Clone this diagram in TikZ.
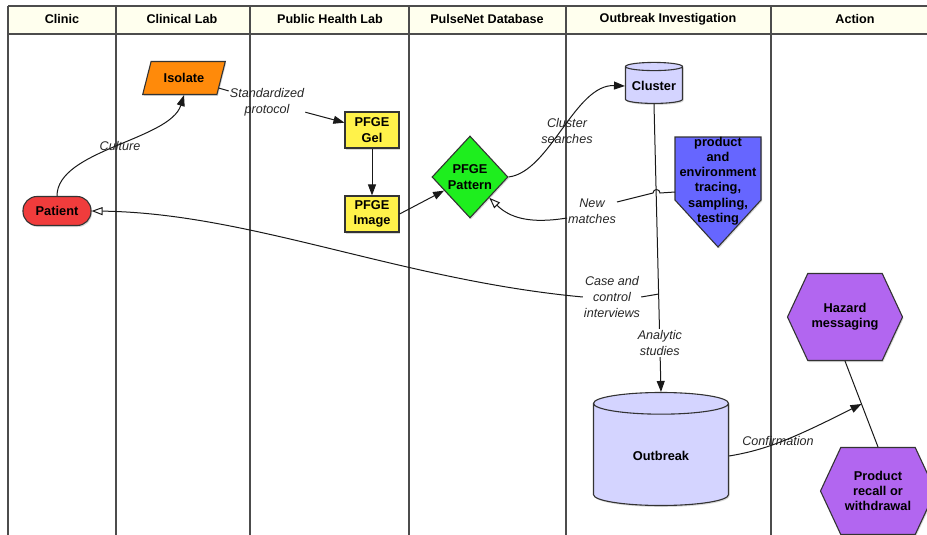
\documentclass[tikz,border=0pt]{standalone}
\usepackage{fontspec}
\setmainfont{Liberation Sans}
\usetikzlibrary{shapes.geometric,shapes.symbols,arrows.meta,shadows,calc}

\definecolor{headfill}{HTML}{FFFFEE}
\definecolor{isoorange}{HTML}{FF8A0A}
\definecolor{gelyellow}{HTML}{FFF24A}
\definecolor{patgreen}{HTML}{1EEE1E}
\definecolor{cyllav}{HTML}{D4D4FF}
\definecolor{traceblue}{HTML}{6666FF}
\definecolor{patred}{HTML}{F03C3C}
\definecolor{hazpurple}{HTML}{B266F0}

\tikzset{
  lane/.style={line width=1.3pt, draw=black!70},
  head/.style={font=\fontsize{12.6}{15}\selectfont\bfseries},
  boxtext/.style={align=center, inner sep=2pt,
    font=\fontsize{12.8}{15.3}\selectfont\bfseries},
  box/.style={boxtext, draw=black!80, line width=1.1pt,
    drop shadow={shadow xshift=1pt, shadow yshift=-1.5pt, opacity=0.3}},
  note/.style={font=\fontsize{12.6}{16}\selectfont\itshape, align=center,
    inner sep=1pt, text=black!85},
  link/.style={line width=1pt, draw=black!90},
  flow/.style={link, -{Triangle[length=11pt,width=8pt]}},
  backflow/.style={link, -{Triangle[open,length=11pt,width=8pt]}},
  hexa/.style={box, signal, signal to=west and east, signal pointer angle=130,
    fill=hazpurple, minimum width=115, minimum height=87},
  drum/.style={box, cylinder, shape border rotate=90, fill=cyllav}
}

\begin{document}
\begin{tikzpicture}[x=1pt,y=-1pt]
 	\useasboundingbox (0,0) rectangle (927,535);
 	\fill[headfill] (8,6) rectangle (935,34);
 	\draw[lane] (8,6) -- (935,6);
 	\draw[lane] (8,34) -- (935,34);
 	\foreach \x in {8,116,250,409,566,771}
 	  \draw[lane] (\x,6) -- (\x,540);
 	\foreach \x/\t [count=\i] in {62/Clinic,182/Clinical Lab,330/Public Health Lab,487/PulseNet Database,668/Outbreak Investigation,855/Action}
 	  \node[head] (h\i) at (\x,19) {\t};

 	\node[box, trapezium, trapezium left angle=67, trapezium right angle=113, trapezium stretches, fill=isoorange, minimum width=83, minimum height=33] (isolate) at (184,78) {Isolate};
 	\node[box, fill=gelyellow, minimum width=54, minimum height=36] (gel) at (372,130) {PFGE\\Gel};
 	\node[box, fill=gelyellow, minimum width=54, minimum height=36] (image) at (372,214) {PFGE\\Image};
 	\node[box, diamond, aspect=0.93, inner sep=0pt, fill=patgreen, minimum width=76, minimum height=82] (pattern) at (470,177) {PFGE\\Pattern};
 	\node[drum, aspect=0.17, minimum width=57, minimum height=41] (cluster) at (654,86) {Cluster};
 	\draw[box, fill=traceblue] (675,137) -- (761,137) -- (761,200) -- (718,247) -- (675,200) -- cycle;
 	\node[boxtext] (trace) at (718,181) {product\\and\\environment\\tracing,\\sampling,\\testing};
 	\node[box, fill=patred, rounded corners=14, minimum width=68, minimum height=29] (patient) at (57,211) {Patient};
 	\node[drum, aspect=0.36, minimum width=135, minimum height=113] (outbreak) at (661,456) {Outbreak};
 	\node[hexa] (hazard) at (845,317) {Hazard\\messaging};
 	\node[hexa] (recall) at (878,491) {Product\\recall or\\withdrawal};

 	\node[note] (cultl) at (120,146) {Culture};
 	\node[note] (stdp) at (267,102) {Standardized\\protocol};
 	\node[note] (csl) at (567,131) {Cluster\\searches};
 	\node[note] (newm) at (592,211) {New\\matches};
 	\node[note] (casel) at (612,297) {Case and\\control\\interviews};
 	\node[note] (confl) at (778,441) {Confirmation};

 	\coordinate (tracein) at (675,192);
 	\coordinate (casept) at ($(cluster.south)!0.66!(outbreak.north)$);
 	\coordinate (hitpt) at ($(hazard.south)!0.5!(recall.north)$);

 	\draw[flow] (patient.north) .. controls (57,150) and (170,140) .. (isolate.south);
 	\draw[link] (isolate) -- (stdp);
 	\draw[flow] (stdp) -- (gel);
 	\draw[flow] (gel) -- (image);
 	\draw[flow] (image.east) -- (pattern);
 	\draw[flow] (pattern.east) .. controls (550,172) and (575,84) .. (cluster.west);
 	\draw[flow] (cluster.south) -- node[note, fill=white, pos=0.83] (anal) {Analytic\\studies} (outbreak.north);
 	\draw[link] (tracein) -- (660,193) arc (0:-180:3.5) -- ($(newm.east)+(0,-9)$);
 	\draw[backflow] ($(newm.west)+(0,7)$) .. controls (530,224) and (510,218) .. (pattern.south east);
 	\draw[link] (casept) -- (casel.east);
 	\draw[backflow] (casel.west) .. controls (400,280) and (250,213) .. (patient.east);
 	\draw[flow] (outbreak.east) .. controls (765,450) and (790,440) .. (hitpt);
 	\draw[link] (hazard.south) -- (recall.north);
\end{tikzpicture}
\end{document}
